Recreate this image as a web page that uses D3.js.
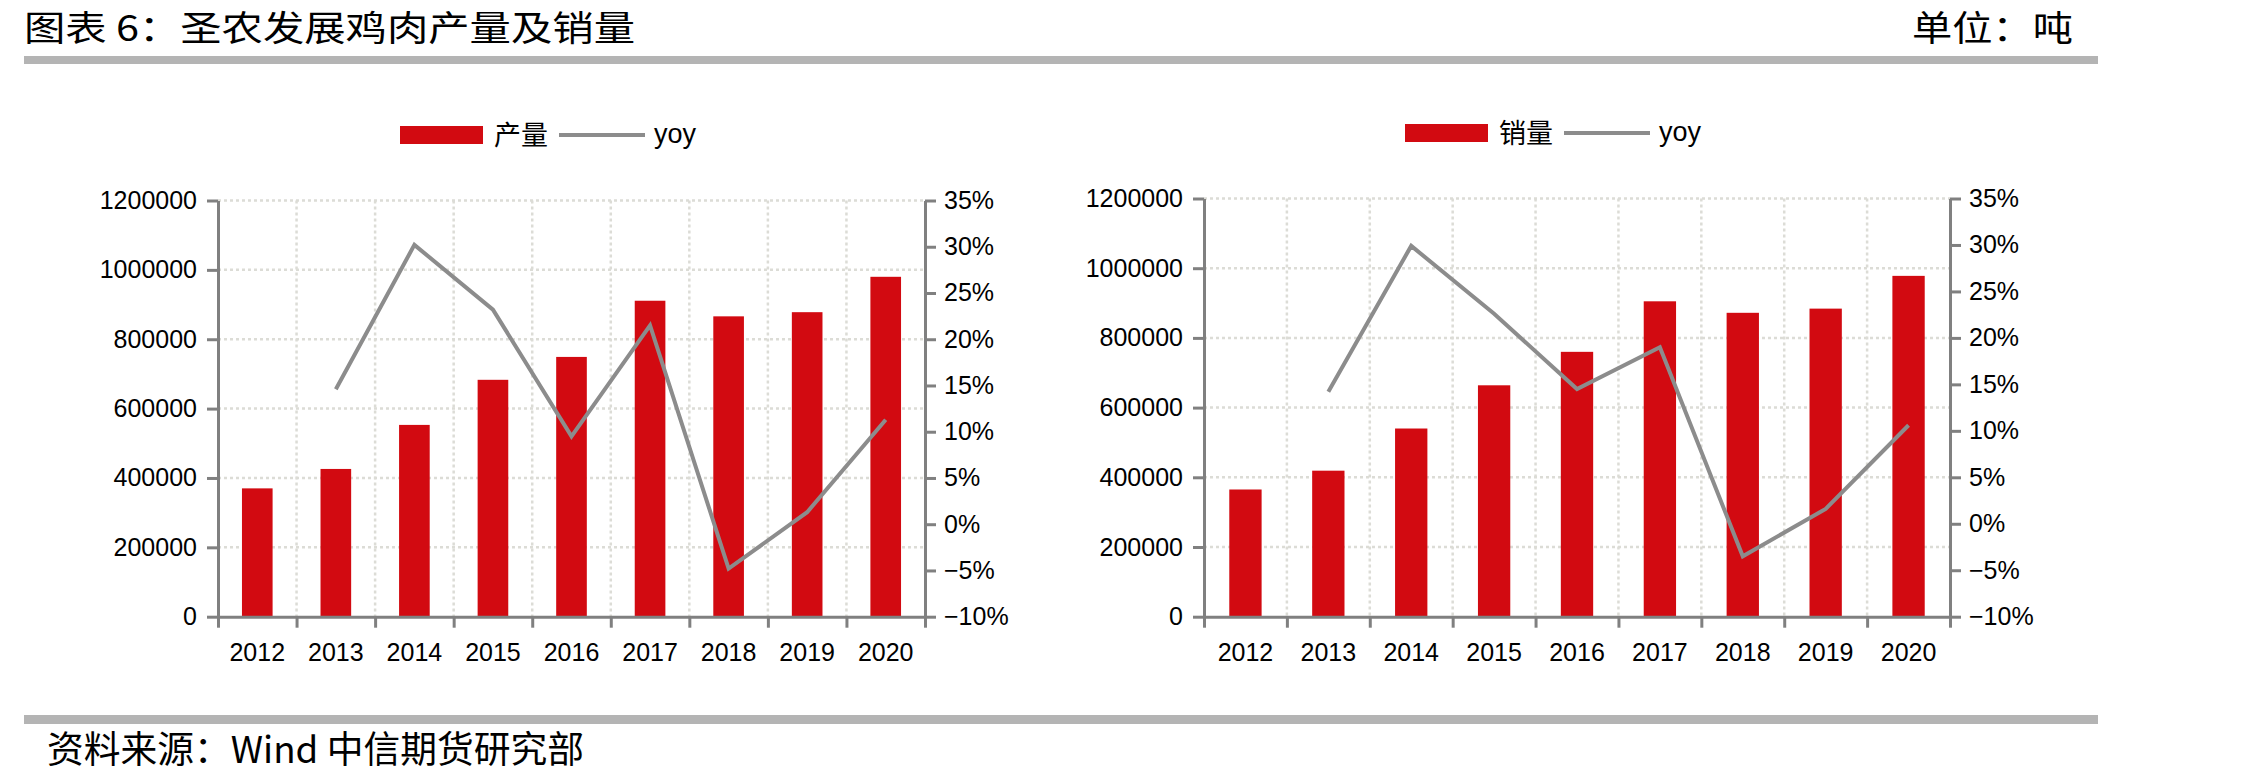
<!DOCTYPE html>
<html>
<head>
<meta charset="utf-8">
<script src="https://cdn.jsdelivr.net/npm/d3@7"></script>
<style>
  html, body { margin: 0; padding: 0; background: #fff; }
  svg { display: block; }
</style>
</head>
<body>
<div id="chart"></div>
<script>
// data
const years = ['2012', '2013', '2014', '2015', '2016', '2017', '2018', '2019', '2020']
const prodValues = [370000, 426000, 553000, 683000, 749000, 911000, 866000, 878000, 980000]
const prodYoy = [null, 14.6, 30.2, 23.2, 9.5, 21.5, -4.8, 1.3, 11.3]
const salesValues = [365000, 419000, 540000, 664000, 760000, 905000, 872000, 884000, 978000]
const salesYoy = [null, 14.2, 29.9, 22.6, 14.5, 19.0, -3.5, 1.6, 10.6]
const leftTicks = [0, 200000, 400000, 600000, 800000, 1000000, 1200000]
const pctTicks = [-10, -5, 0, 5, 10, 15, 20, 25, 30, 35]

const width = 2267
const height = 782
const cjk = '"Noto Sans CJK SC", "Noto Sans", sans-serif'
const latin = '"Liberation Sans", Arial, sans-serif'
const red = '#d20a11'
const grey = '#8c8c8c'
const axisGrey = '#808080'

const svg = d3.select('#chart').append('svg')
  .attr('width', width).attr('height', height)

// header and footer
svg.append('text')
  .attr('x', 24).attr('y', 41)
  .attr('font-family', cjk).attr('font-size', 35)
  .attr('textLength', 611).attr('lengthAdjust', 'spacingAndGlyphs')
  .text('图表 6：圣农发展鸡肉产量及销量')
svg.append('text')
  .attr('x', 2073).attr('y', 41)
  .attr('text-anchor', 'end')
  .attr('font-family', cjk).attr('font-size', 35)
  .attr('textLength', 161).attr('lengthAdjust', 'spacingAndGlyphs')
  .text('单位：吨')
svg.append('rect').attr('x', 24).attr('y', 56).attr('width', 2074).attr('height', 8).attr('fill', '#b4b4b4')
svg.append('rect').attr('x', 24).attr('y', 715).attr('width', 2074).attr('height', 9).attr('fill', '#b4b4b4')
svg.append('text')
  .attr('x', 47).attr('y', 763)
  .attr('font-family', cjk).attr('font-size', 37)
  .attr('textLength', 537).attr('lengthAdjust', 'spacingAndGlyphs')
  .text('资料来源：Wind 中信期货研究部')

const drawChart = (cfg) => {
  const { left, right, top, bottom, values, yoy, name, legend } = cfg
  const g = svg.append('g')

  const x = d3.scaleBand().domain(years).range([left, right]).padding(0)
  const edges = d3.scaleLinear().domain([0, years.length]).range([left, right])
  const y = d3.scaleLinear().domain([0, 1200000]).range([bottom, top])
  const y2 = d3.scaleLinear().domain([-10, 35]).range([bottom, top])
  const barW = x.bandwidth() * 0.39

  // dotted grid
  g.append('g')
    .selectAll('line')
    .data(leftTicks.filter(d => d > 0))
    .enter().append('line')
      .attr('x1', left).attr('x2', right)
      .attr('y1', d => y(d)).attr('y2', d => y(d))
      .attr('stroke', '#dcdcd6').attr('stroke-width', 2.5)
      .attr('stroke-dasharray', '3,3')
  g.append('g')
    .selectAll('line')
    .data(d3.range(1, years.length))
    .enter().append('line')
      .attr('x1', d => edges(d)).attr('x2', d => edges(d))
      .attr('y1', top).attr('y2', bottom)
      .attr('stroke', '#dcdcd6').attr('stroke-width', 2.5)
      .attr('stroke-dasharray', '3,3')

  // bars
  g.append('g')
    .attr('fill', red)
    .selectAll('rect')
    .data(values)
    .enter().append('rect')
      .attr('x', (d, i) => x(years[i]) + (x.bandwidth() - barW) / 2)
      .attr('width', barW)
      .attr('y', d => y(d))
      .attr('height', d => y(0) - y(d))

  // yoy line
  const line = d3.line()
    .defined(d => d.v !== null)
    .x(d => x(d.year) + x.bandwidth() / 2)
    .y(d => y2(d.v))
  g.append('path')
    .datum(years.map((year, i) => ({ year, v: yoy[i] })))
    .attr('fill', 'none')
    .attr('stroke', grey)
    .attr('stroke-width', 4)
    .attr('stroke-linejoin', 'miter')
    .attr('d', line)

  // axes
  const styleAxis = sel => {
    sel.selectAll('.domain').attr('stroke', axisGrey).attr('stroke-width', 3)
    sel.selectAll('.tick line').attr('stroke', axisGrey).attr('stroke-width', 3)
    sel.selectAll('.tick text').attr('fill', '#000').attr('font-family', latin).attr('font-size', 25)
  }

  g.append('g')
    .attr('transform', `translate(${left},0)`)
    .call(d3.axisLeft(y).tickValues(leftTicks).tickSize(11).tickSizeOuter(0).tickPadding(10).tickFormat(d3.format('d')))
    .call(styleAxis)

  g.append('g')
    .attr('transform', `translate(${right},0)`)
    .call(d3.axisRight(y2).tickValues(pctTicks).tickSize(11).tickSizeOuter(0).tickPadding(8)
      .tickFormat(d => (d < 0 ? '\u2212' + Math.abs(d) : d) + '%'))
    .call(styleAxis)

  g.append('g')
    .attr('transform', `translate(0,${bottom})`)
    .call(d3.axisBottom(edges).tickValues(d3.range(0, years.length + 1)).tickSize(11).tickSizeOuter(0).tickFormat(''))
    .call(styleAxis)

  g.append('g')
    .attr('transform', `translate(0,${bottom})`)
    .call(d3.axisBottom(x).tickSize(0).tickPadding(27))
    .call(styleAxis)
    .call(a => a.select('.domain').remove())

  // legend
  g.append('rect')
    .attr('x', legend.x).attr('y', legend.y - 9)
    .attr('width', 83).attr('height', 18)
    .attr('fill', red)
  g.append('text')
    .attr('x', legend.x + 94).attr('y', legend.y + 10)
    .attr('font-family', cjk).attr('font-size', 27)
    .text(name)
  g.append('line')
    .attr('x1', legend.x + 159).attr('x2', legend.x + 245)
    .attr('y1', legend.y).attr('y2', legend.y)
    .attr('stroke', grey).attr('stroke-width', 4)
  g.append('text')
    .attr('x', legend.x + 254).attr('y', legend.y + 8)
    .attr('font-family', latin).attr('font-size', 27)
    .text('yoy')
}

drawChart({
  left: 218, right: 925, top: 200.5, bottom: 616.7,
  values: prodValues, yoy: prodYoy, name: '产量',
  legend: { x: 400, y: 135 }
})

drawChart({
  left: 1204, right: 1950, top: 198.5, bottom: 616.7,
  values: salesValues, yoy: salesYoy, name: '销量',
  legend: { x: 1405, y: 133 }
})
</script>
</body>
</html>
